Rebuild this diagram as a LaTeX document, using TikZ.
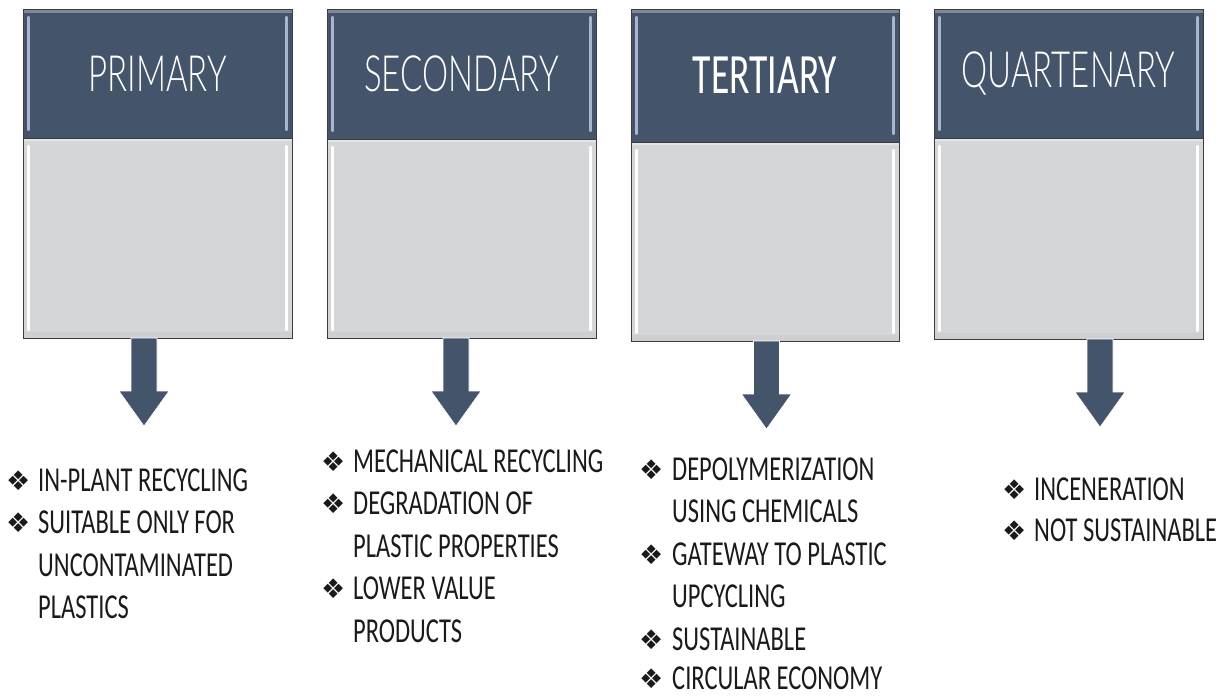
\documentclass[tikz,border=0pt]{standalone}
\usepackage{fontspec}
\setmainfont{Carlito}
\newfontfamily\listfont[FakeStretch=0.70]{Carlito}
\newfontfamily\headlight[FakeStretch=0.66]{Lato Light}
\newfontfamily\headreg[FakeStretch=0.66]{Carlito}
\newfontfamily\symfont{DejaVu Sans}

\definecolor{slate}{HTML}{44546A}
\definecolor{panel}{HTML}{D5D6D8}
\definecolor{rim}{HTML}{3C3C3C}
\definecolor{headglint}{HTML}{A7B6CA}
\definecolor{headtop}{HTML}{7F8896}
\definecolor{listink}{HTML}{1A1A1A}

\tikzset{
  headbox/.style={draw=rim, fill=slate, line width=0.9pt, inner sep=0pt,
    outer sep=0pt, anchor=north west, minimum width=269, text=white},
  bodybox/.style={draw=rim, fill=panel, line width=0.9pt, inner sep=0pt,
    outer sep=0pt, anchor=north west, minimum width=269},
  headlabel/.style={font=\headlight\fontsize{50}{50}\selectfont},
  headlabelreg/.style={font=\headreg\fontsize{57}{57}\selectfont},
  item/.style={anchor=base west, inner sep=0pt, text=listink, text depth=0pt,
    font=\listfont\fontsize{35}{35}\selectfont},
  bul/.style={anchor=base west, inner sep=0pt, text=listink, text depth=0pt,
    font=\symfont\fontsize{27}{27}\selectfont},
  blockarrow/.style={fill=slate, draw=white, line width=0.6pt},
}

% bevel strips on a box: light inner edges
\newcommand{\bevelstrips}[2]{%
  \draw[#2, line width=2.2pt, line cap=round]
    ([xshift=5.5pt,yshift=-8pt]#1.north west) -- ([xshift=5.5pt,yshift=8pt]#1.south west);
  \draw[#2, line width=2.2pt, line cap=round]
    ([xshift=-5.5pt,yshift=-8pt]#1.north east) -- ([xshift=-5.5pt,yshift=8pt]#1.south east);
}
% block arrow hanging from a point (top centre of the shaft)
\newcommand{\dropArrow}[1]{%
  \fill[blockarrow] (#1) ++(-13,0) -- ++(0,53) -- ++(-12,0) -- ++(25,35)
    -- ++(25,-35) -- ++(-12,0) -- ++(0,-53) -- cycle;
}

\begin{document}
\begin{tikzpicture}[x=1pt,y=-1pt]
\useasboundingbox (0,0) rectangle (1227,696);

% ---- column boxes ----
\node[headbox, minimum height=129] (h1) at (23,9) {};
\node[bodybox, minimum height=200] (b1) at (23,138) {};
\node[headbox, minimum height=130] (h2) at (327,9) {};
\node[bodybox, minimum height=199] (b2) at (327,139) {};
\node[headbox, minimum height=133, minimum width=268] (h3) at (631,9) {};
\node[bodybox, minimum height=199, minimum width=268] (b3) at (631,142) {};
\node[headbox, minimum height=129] (h4) at (934,9) {};
\node[bodybox, minimum height=201] (b4) at (934,138) {};

% top rims of the headers
\foreach \h in {h1,h2,h3,h4}{
  \fill[headtop] ([xshift=0.5pt,yshift=-0.5pt]\h.north west) rectangle ([xshift=-0.5pt,yshift=-3.5pt]\h.north east);
  \bevelstrips{\h}{headglint}
}
\foreach \b in {b1,b2,b3,b4}{
  \bevelstrips{\b}{white}
  \fill[white, opacity=0.35] ([xshift=0.5pt,yshift=-0.5pt]\b.north west) rectangle ([xshift=-0.5pt,yshift=-3pt]\b.north east);
  \fill[black, opacity=0.03] ([xshift=0.5pt,yshift=6pt]\b.south west) rectangle ([xshift=-0.5pt,yshift=0.5pt]\b.south east);
}

% ---- header labels ----
\node[headlabel, text=white] (t1) at (h1.center) {PRIMARY};
\node[headlabel, text=white] (t2) at (h2.center) {SECONDARY};
\node[headlabelreg, text=white] (t3) at (h3.center) {TERTIARY};
\node[headlabel, text=white] (t4) at (h4.center) {QUARTENARY};

% ---- arrows ----
\path (b1.south west) ++(121,0) coordinate (a1);
\path (b2.south west) ++(129,0) coordinate (a2);
\path (b3.south west) ++(135.5,0) coordinate (a3);
\path (b4.south west) ++(166,0) coordinate (a4);
\dropArrow{a1}
\dropArrow{a2}
\dropArrow{a3}
\dropArrow{a4}

% ---- primary list ----
\node[bul] (p1b) at (6,490) {❖};
\node[item] (p1) at (38,491) {IN-PLANT RECYCLING};
\node[bul] (p2b) at (6,532) {❖};
\node[item] (p2) at (38,533) {SUITABLE ONLY FOR};
\node[item] (p3) at (38,576) {UNCONTAMINATED};
\node[item] (p4) at (38,618) {PLASTICS};

% ---- secondary list ----
\node[bul] (s1b) at (321,471) {❖};
\node[item] (s1) at (353,472) {MECHANICAL RECYCLING};
\node[bul] (s2b) at (321,513) {❖};
\node[item] (s2) at (353,514) {DEGRADATION OF};
\node[item] (s3) at (353,557) {PLASTIC PROPERTIES};
\node[bul] (s4b) at (321,598) {❖};
\node[item] (s4) at (353,599) {LOWER VALUE};
\node[item] (s5) at (353,642) {PRODUCTS};

% ---- tertiary list ----
\node[bul] (r1b) at (639,479) {❖};
\node[item] (r1) at (672,480) {DEPOLYMERIZATION};
\node[item] (r2) at (672,522) {USING CHEMICALS};
\node[bul] (r3b) at (639,564) {❖};
\node[item] (r3) at (672,565) {GATEWAY TO PLASTIC};
\node[item] (r4) at (672,607) {UPCYCLING};
\node[bul] (r5b) at (639,649) {❖};
\node[item] (r5) at (672,650) {SUSTAINABLE};
\node[bul] (r6b) at (639,688) {❖};
\node[item] (r6) at (672,689) {CIRCULAR ECONOMY};

% ---- quaternary list ----
\node[bul] (q1b) at (1002,499) {❖};
\node[item] (q1) at (1034,500) {INCENERATION};
\node[bul] (q2b) at (1002,540) {❖};
\node[item] (q2) at (1034,541) {NOT SUSTAINABLE};
\end{tikzpicture}
\end{document}
